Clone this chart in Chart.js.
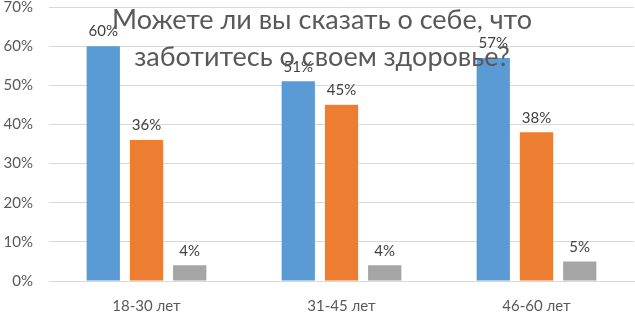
<!DOCTYPE html>
<html>
<head>
<meta charset="utf-8">
<script src="https://cdn.jsdelivr.net/npm/chart.js@4"></script>
<style>
  html, body { margin: 0; padding: 0; background: #fff; }
  #wrap { width: 635px; height: 312px; position: relative; }
</style>
</head>
<body>
<div id="wrap"><canvas id="grafico"></canvas></div>
<script>
const categorias = ["18-30 лет", "31-45 лет", "46-60 лет"];
const serie1 = [60, 51, 57];
const serie2 = [36, 45, 38];
const serie3 = [4, 4, 5];
const cores = ["#5B9BD5", "#ED7D31", "#A5A5A5"];
const tituloLinhas = ["Можете ли вы сказать о себе, что", "заботитесь о своем здоровье?"];

const fonte = "Lato, 'Open Sans', sans-serif";

// rótulos de valor acima das barras
const rotulos = {
    id: "rotulos",
    afterDatasetsDraw(chart) {
        const ctx = chart.ctx;
        ctx.save();
        ctx.font = "15px " + fonte;
        ctx.fillStyle = "#404040";
        ctx.textAlign = "center";
        ctx.textBaseline = "bottom";
        chart.data.datasets.forEach((ds, i) => {
            chart.getDatasetMeta(i).data.forEach((bar, j) => {
                ctx.fillText(ds.data[j] + "%", bar.x, bar.y - 7);
            });
        });
        ctx.restore();
    }
};

// título por cima do gráfico, como no original
const titulo = {
    id: "titulo",
    afterDraw(chart) {
        const ctx = chart.ctx;
        ctx.save();
        ctx.font = "27px " + fonte;
        ctx.fillStyle = "#595959";
        ctx.textAlign = "center";
        ctx.textBaseline = "alphabetic";
        ctx.fillText(tituloLinhas[0], 322, 29);
        ctx.fillText(tituloLinhas[1], 322, 66);
        ctx.restore();
    }
};

document.addEventListener("DOMContentLoaded", function () {
    let ctx = document.getElementById("grafico").getContext("2d");
    new Chart(ctx, {
        type: "bar",
        data: {
            labels: categorias,
            datasets: [
                { label: "1", data: serie1, backgroundColor: cores[0] },
                { label: "2", data: serie2, backgroundColor: cores[1] },
                { label: "3", data: serie3, backgroundColor: cores[2] }
            ]
        },
        options: {
            responsive: true,
            maintainAspectRatio: false,
            animation: false,
            layout: { padding: { top: 7, right: 1, left: 0, bottom: 0 } },
            categoryPercentage: 0.665,
            barPercentage: 0.77,
            plugins: {
                legend: { display: false },
                tooltip: { enabled: false },
                title: { display: false }
            },
            scales: {
                x: {
                    grid: { display: false },
                    border: { color: "#d9d9d9" },
                    ticks: { color: "#595959", font: { family: fonte, size: 15 }, padding: 8 },
                    afterFit: s => { s.height = 31; s.paddingLeft = 0; s.paddingRight = 0; }
                },
                y: {
                    min: 0,
                    max: 70,
                    ticks: {
                        stepSize: 10,
                        color: "#595959",
                        font: { family: fonte, size: 15 },
                        padding: 16,
                        callback: v => v + "%"
                    },
                    grid: { color: "#d9d9d9", drawTicks: false },
                    border: { display: false },
                    afterFit: s => { s.width = 49; s.paddingTop = 0; s.paddingBottom = 0; }
                }
            }
        },
        plugins: [rotulos, titulo]
    });
});
</script>
</body>
</html>
